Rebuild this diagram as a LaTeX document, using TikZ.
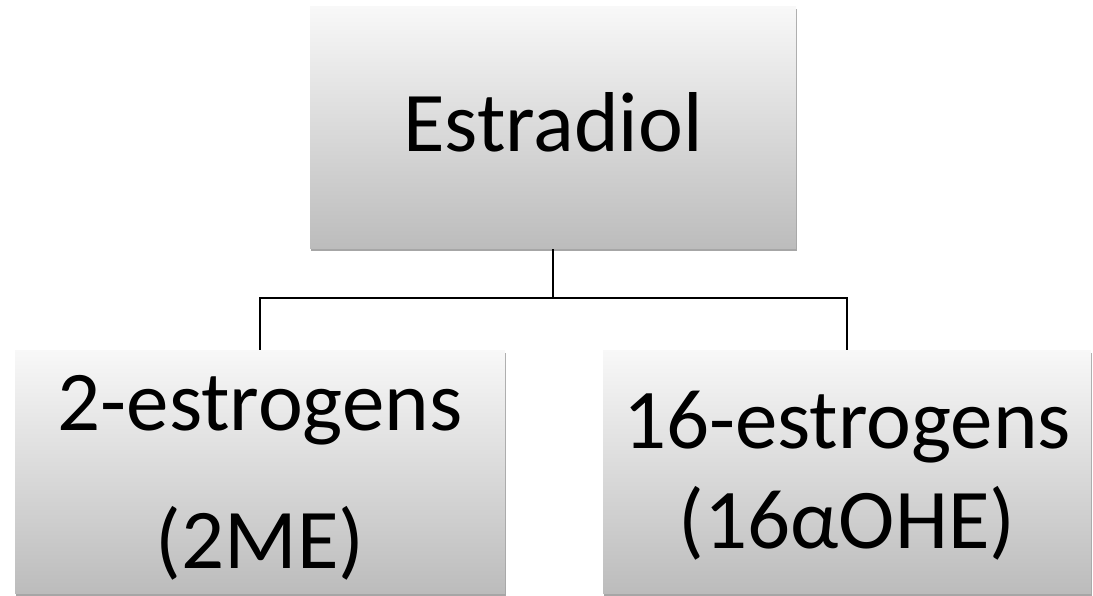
\documentclass[tikz,border=0pt]{standalone}
\usepackage{fontspec}
\setmainfont{Carlito}
\usetikzlibrary{shadows}
\definecolor{gtop}{HTML}{F8F8F8}
\definecolor{gbot}{HTML}{BCBCBC}
\tikzset{
  box/.style={draw=none, top color=gtop, bottom color=gbot, inner sep=0pt,
    drop shadow={shadow xshift=1pt, shadow yshift=-2.5pt, fill=black, opacity=0.35}},
  lbl/.style={anchor=base, inner sep=0pt, font=\fontsize{85}{100}\selectfont},
  conn/.style={draw=black, line width=1.3pt}
}
\begin{document}
\begin{tikzpicture}[x=1pt,y=-1pt]
\useasboundingbox (0,0) rectangle (1093,596);
\node[box, minimum width=486pt, minimum height=242pt] (top) at (553,128) {};
\node[box, minimum width=490pt, minimum height=243pt] (left) at (260,471.5) {};
\node[box, minimum width=488pt, minimum height=243pt] (right) at (847,471.5) {};
\coordinate (junc) at (553,298);
\draw[conn] (top.south) -- (junc);
\draw[conn] (junc) -| (left.north);
\draw[conn] (junc) -| (right.north);
\node[lbl] (t1) at (553,152) {Estradiol};
\node[lbl] (l1) at (260,430) {2-estrogens};
\node[lbl] (l2) at (260,568) {(2ME)};
\node[lbl] (r1) at (847,448) {16-estrogens};
\node[lbl] (r2) at (847,548) {(16αOHE)};
\end{tikzpicture}
\end{document}
